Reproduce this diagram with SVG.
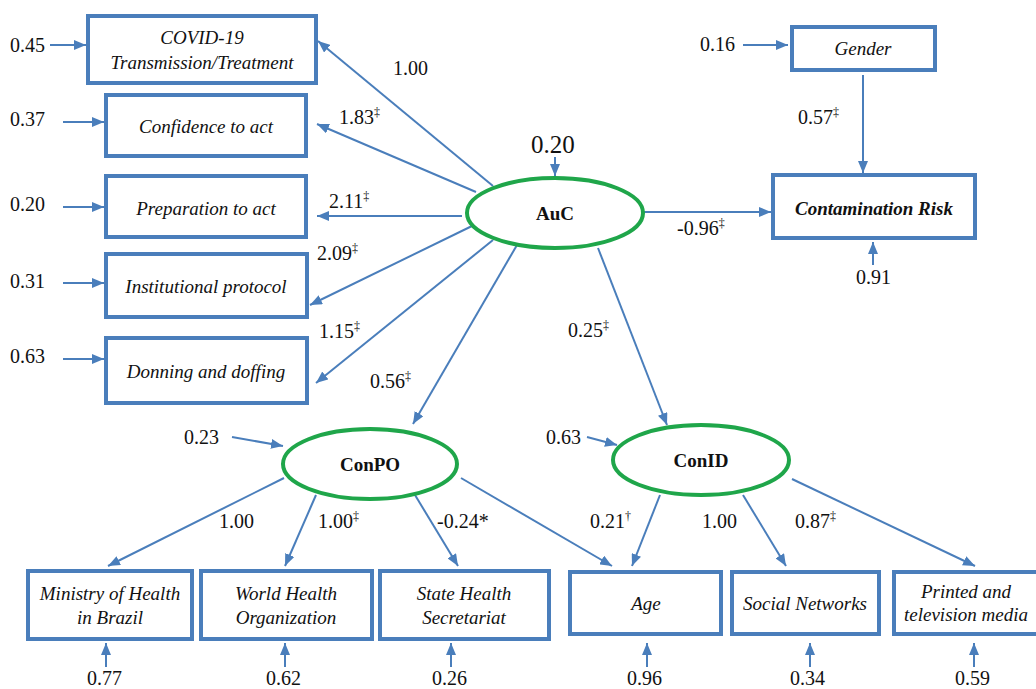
<svg xmlns="http://www.w3.org/2000/svg" width="1036" height="689" viewBox="0 0 1036 689">
<defs>
<marker id="ah" viewBox="0 0 12 10" refX="12" refY="5" markerWidth="12" markerHeight="10" orient="auto" markerUnits="userSpaceOnUse">
<path d="M0,0 L12,5 L0,10 z" fill="#4a7ebb"/>
</marker>
<style>
text{font-family:'Liberation Serif','Times New Roman','DejaVu Serif',serif}
.box{fill:#fff;stroke:#4a7ebb;stroke-width:4}
.ell{fill:#fff;stroke:#1fa64a;stroke-width:4}
.lbl{font-style:italic;font-size:19px;fill:#111;text-anchor:middle}
.lat{font-weight:bold;font-size:19px;fill:#111;text-anchor:middle}
.num{font-size:20px;fill:#111}
.sup{font-size:12px}
.c line{stroke:#4a7ebb;stroke-width:2;marker-end:url(#ah)}
</style>
</defs>
<rect width="1036" height="689" fill="#fff"/>

<g id="connectors" class="c">
<line x1="493" y1="186" x2="318" y2="41"/>
<line x1="476" y1="192" x2="317" y2="124"/>
<line x1="462" y1="216" x2="317" y2="216"/>
<line x1="472" y1="226" x2="310" y2="305"/>
<line x1="493" y1="240" x2="316" y2="383"/>
<line x1="517" y1="245" x2="413" y2="424"/>
<line x1="598" y1="248" x2="667" y2="425"/>
<line x1="643" y1="212" x2="771" y2="212"/>
<line x1="863" y1="75" x2="863" y2="173"/>
<line x1="284" y1="478" x2="108" y2="566"/>
<line x1="316" y1="495" x2="285" y2="566"/>
<line x1="415" y1="495" x2="458" y2="566"/>
<line x1="461" y1="478" x2="612" y2="566"/>
<line x1="660" y1="495" x2="632" y2="566"/>
<line x1="743" y1="495" x2="786" y2="566"/>
<line x1="792" y1="479" x2="975" y2="566"/>
<line x1="50" y1="45" x2="86" y2="45"/>
<line x1="63" y1="122" x2="104" y2="122"/>
<line x1="63" y1="207" x2="104" y2="207"/>
<line x1="63" y1="283" x2="104" y2="283"/>
<line x1="63" y1="359" x2="104" y2="359"/>
<line x1="743" y1="45" x2="788" y2="45"/>
<line x1="555" y1="157" x2="555" y2="176"/>
<line x1="873" y1="265" x2="873" y2="242"/>
<line x1="232" y1="437" x2="283" y2="446"/>
<line x1="587" y1="437" x2="617" y2="445"/>
<line x1="106" y1="667" x2="106" y2="643"/>
<line x1="285" y1="667" x2="285" y2="643"/>
<line x1="451" y1="667" x2="451" y2="643"/>
<line x1="647" y1="667" x2="647" y2="643"/>
<line x1="810" y1="667" x2="810" y2="643"/>
<line x1="974" y1="667" x2="974" y2="643"/>
</g>

<g id="covid"><rect class="box" x="88" y="16" width="228" height="67"/><text class="lbl" x="202" y="44">COVID-19</text><text class="lbl" x="202" y="69">Transmission/Treatment</text></g>
<g id="confidence"><rect class="box" x="106" y="95" width="200" height="61"/><text class="lbl" x="206" y="133">Confidence to act</text></g>
<g id="preparation"><rect class="box" x="106" y="176" width="200" height="61"/><text class="lbl" x="206" y="215">Preparation to act</text></g>
<g id="institutional"><rect class="box" x="106" y="254" width="201" height="63"/><text class="lbl" x="206" y="293">Institutional protocol</text></g>
<g id="donning"><rect class="box" x="106" y="338" width="201" height="65"/><text class="lbl" x="206" y="378">Donning and doffing</text></g>
<g id="gender"><rect class="box" x="792" y="27" width="143" height="43"/><text class="lbl" x="863" y="55">Gender</text></g>
<g id="contamination"><rect class="box" x="773" y="175" width="202" height="63"/><text class="lbl" style="font-weight:bold" x="874" y="215">Contamination Risk</text></g>

<g id="auc"><ellipse class="ell" cx="555" cy="213" rx="88" ry="35"/><text class="lat" x="555" y="220">AuC</text></g>
<g id="conpo"><ellipse class="ell" cx="370" cy="464" rx="87" ry="35"/><text class="lat" x="370" y="471">ConPO</text></g>
<g id="conid"><ellipse class="ell" cx="701" cy="460" rx="88" ry="35"/><text class="lat" x="701" y="467">ConID</text></g>

<g id="ministry"><rect class="box" x="28" y="571" width="164" height="68"/><text class="lbl" x="110" y="600">Ministry of Health</text><text class="lbl" x="110" y="624">in Brazil</text></g>
<g id="who"><rect class="box" x="201" y="571" width="171" height="68"/><text class="lbl" x="286" y="600">World Health</text><text class="lbl" x="286" y="624">Organization</text></g>
<g id="state"><rect class="box" x="380" y="571" width="169" height="68"/><text class="lbl" x="464" y="600">State Health</text><text class="lbl" x="464" y="624">Secretariat</text></g>
<g id="age"><rect class="box" x="570" y="572" width="151" height="62"/><text class="lbl" x="646" y="610">Age</text></g>
<g id="social"><rect class="box" x="732" y="572" width="147" height="62"/><text class="lbl" x="805" y="610">Social Networks</text></g>
<g id="printed"><rect class="box" x="894" y="572" width="146" height="62"/><text class="lbl" x="966" y="598">Printed and</text><text class="lbl" x="966" y="621">television media</text></g>

<g id="labels">
<text class="num" x="10" y="52">0.45</text>
<text class="num" x="10" y="126">0.37</text>
<text class="num" x="10" y="211">0.20</text>
<text class="num" x="10" y="288">0.31</text>
<text class="num" x="10" y="363">0.63</text>
<text class="num" x="700" y="51">0.16</text>
<text class="num" x="531" y="153" style="font-size:25px">0.20</text>
<text class="num" x="856" y="284">0.91</text>
<text class="num" x="184" y="444">0.23</text>
<text class="num" x="546" y="444">0.63</text>
<text class="num" x="393" y="75">1.00</text>
<text class="num" x="339" y="124">1.83<tspan class="sup" dy="-8">‡</tspan></text>
<text class="num" x="329" y="208">2.11<tspan class="sup" dy="-8">‡</tspan></text>
<text class="num" x="317" y="260">2.09<tspan class="sup" dy="-8">‡</tspan></text>
<text class="num" x="319" y="338">1.15<tspan class="sup" dy="-8">‡</tspan></text>
<text class="num" x="370" y="388">0.56<tspan class="sup" dy="-8">‡</tspan></text>
<text class="num" x="568" y="337">0.25<tspan class="sup" dy="-8">‡</tspan></text>
<text class="num" x="798" y="124">0.57<tspan class="sup" dy="-8">‡</tspan></text>
<text class="num" x="677" y="235">-0.96<tspan class="sup" dy="-8">‡</tspan></text>
<text class="num" x="219" y="528">1.00</text>
<text class="num" x="318" y="528">1.00<tspan class="sup" dy="-8">‡</tspan></text>
<text class="num" x="437" y="528">-0.24*</text>
<text class="num" x="590" y="528">0.21<tspan class="sup" dy="-8">†</tspan></text>
<text class="num" x="702" y="528">1.00</text>
<text class="num" x="795" y="528">0.87<tspan class="sup" dy="-8">‡</tspan></text>
<text class="num" x="87" y="685">0.77</text>
<text class="num" x="266" y="685">0.62</text>
<text class="num" x="432" y="685">0.26</text>
<text class="num" x="627" y="685">0.96</text>
<text class="num" x="790" y="685">0.34</text>
<text class="num" x="955" y="685">0.59</text>
</g>
</svg>
